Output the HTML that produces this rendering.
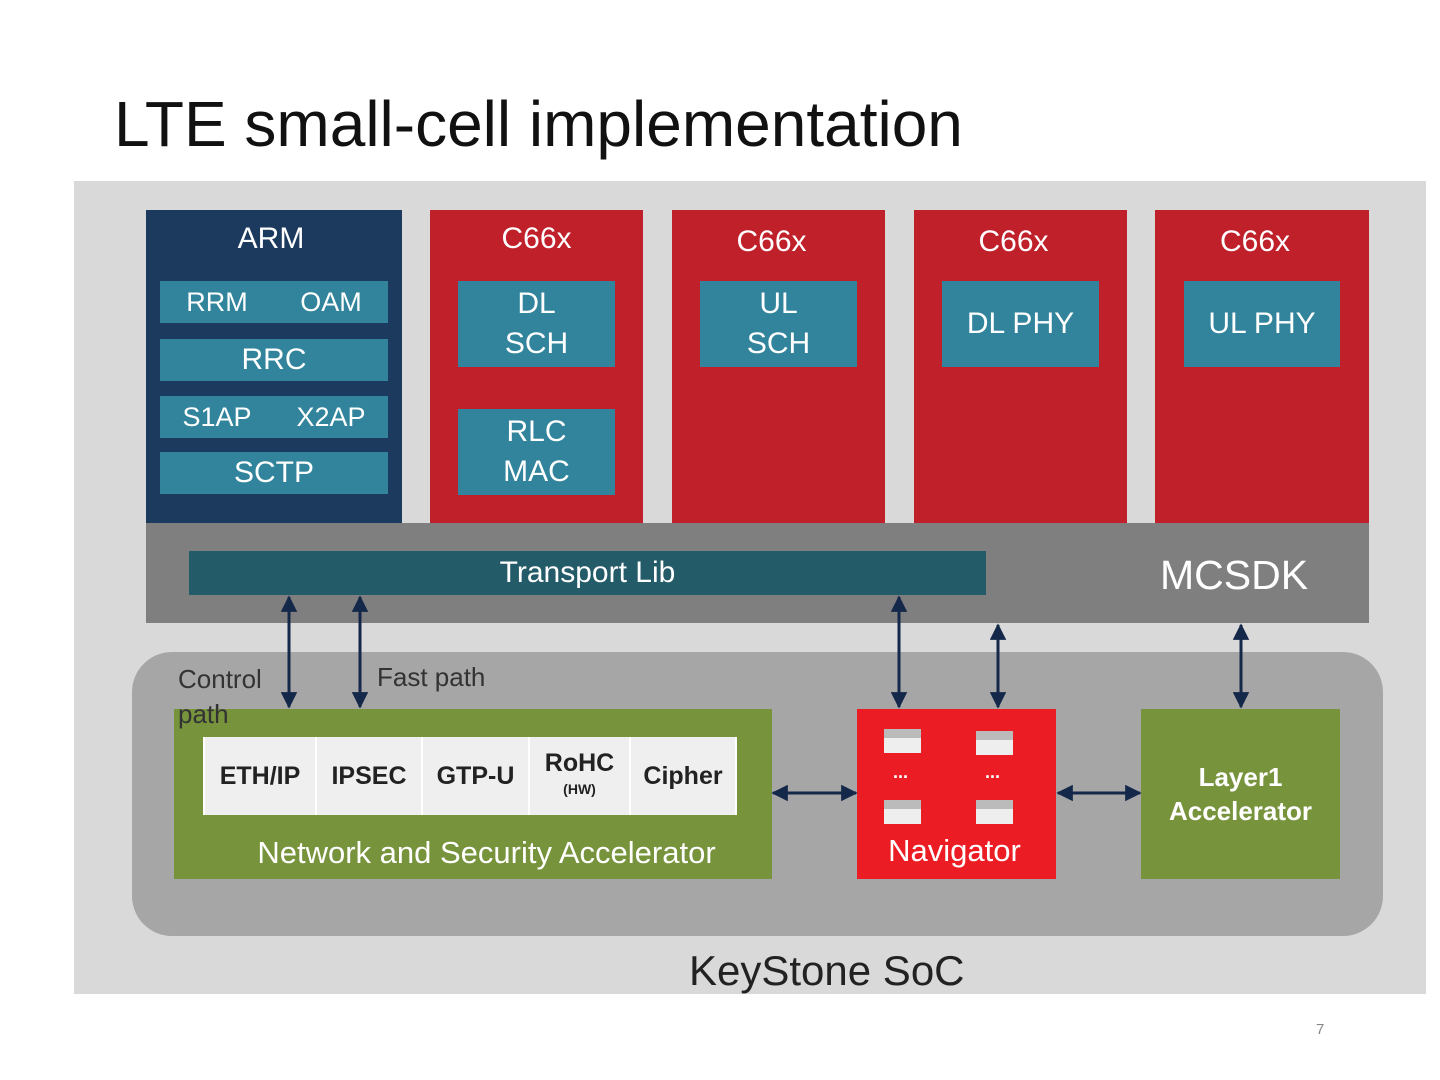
<!DOCTYPE html>
<html><head><meta charset="utf-8"><style>
body{margin:0;width:1440px;height:1080px;background:#fff;position:relative;overflow:hidden;font-family:"Liberation Sans",Arial,sans-serif}
div{position:absolute;box-sizing:border-box}
.c{display:flex;align-items:center;justify-content:center;text-align:center;color:#fff}
.t{background:#31849b;font-size:30px;line-height:40px}
.a{background:#31849b;font-size:27px}
.red{background:#c0202a;top:210px;height:313px}
.h{top:222px;font-size:30px;color:#fff;text-align:center}
.cell{top:737px;height:78px;background:#efefef;border-right:2px solid #fff;font-weight:bold;color:#222;font-size:25px;line-height:26px}
.q{width:37px;height:24px;background:#eee;border-top:9px solid #bbb}
.dot{color:#fff;font-size:18px;font-weight:bold}
</style></head><body>
<div style="left:114px;top:87px;font-size:64px;color:#111">LTE small-cell implementation</div>
<div style="left:74px;top:181px;width:1352px;height:813px;background:#d9d9d9"></div>
<div style="left:146px;top:523px;width:1223px;height:100px;background:#7f7f7f"></div>
<div style="left:132px;top:652px;width:1251px;height:284px;background:#a6a6a6;border-radius:40px"></div>
<div style="left:146px;top:210px;width:256px;height:313px;background:#1b3a5e"></div>
<div class="h" style="left:146px;width:250px">ARM</div>
<div class="c a" style="left:160px;top:281px;width:228px;height:42px;justify-content:space-around">RRM<span>OAM</span></div>
<div class="c a" style="left:160px;top:339px;width:228px;height:42px;font-size:30px">RRC</div>
<div class="c a" style="left:160px;top:396px;width:228px;height:42px;justify-content:space-around">S1AP<span>X2AP</span></div>
<div class="c a" style="left:160px;top:452px;width:228px;height:42px;font-size:30px">SCTP</div>
<div class="red" style="left:430px;width:213px"></div><div class="h" style="left:430px;width:213px">C66x</div>
<div class="red" style="left:672px;width:213px"></div><div class="h" style="left:665px;width:213px;top:225px">C66x</div>
<div class="red" style="left:914px;width:213px"></div><div class="h" style="left:907px;width:213px;top:225px">C66x</div>
<div class="red" style="left:1155px;width:214px"></div><div class="h" style="left:1148px;width:214px;top:225px">C66x</div>
<div class="c t" style="left:458px;top:281px;width:157px;height:86px">DL<br>SCH</div>
<div class="c t" style="left:458px;top:409px;width:157px;height:86px">RLC<br>MAC</div>
<div class="c t" style="left:700px;top:281px;width:157px;height:86px">UL<br>SCH</div>
<div class="c t" style="left:942px;top:281px;width:157px;height:86px">DL PHY</div>
<div class="c t" style="left:1184px;top:281px;width:156px;height:86px">UL PHY</div>
<div class="c" style="left:189px;top:551px;width:797px;height:44px;background:#235b68;font-size:30px">Transport Lib</div>
<div style="left:1160px;top:552px;font-size:41px;color:#fff">MCSDK</div>
<div style="left:178px;top:662px;font-size:26px;color:#333;line-height:35px">Control<br>path</div>
<div style="left:377px;top:662px;font-size:26px;color:#333">Fast path</div>
<div style="left:174px;top:709px;width:598px;height:170px;background:#77933c"></div>
<div style="left:178px;top:697px;font-size:26px;color:#333;line-height:35px">path</div>
<div style="left:203px;top:737px;width:534px;height:78px;background:#fff"></div>
<div class="c cell" style="left:205px;width:112px">ETH/IP</div>
<div class="c cell" style="left:317px;width:106px">IPSEC</div>
<div class="c cell" style="left:423px;width:107px">GTP-U</div>
<div class="c cell" style="left:530px;width:101px;flex-direction:column">RoHC<span style="font-size:14px">(HW)</span></div>
<div class="c cell" style="left:631px;width:104px;border-right:0">Cipher</div>
<div style="left:174px;top:835px;width:625px;text-align:center;color:#fff;font-size:31px">Network and Security Accelerator</div>
<div style="left:857px;top:709px;width:199px;height:170px;background:#ec1c24"></div>
<div class="q" style="left:884px;top:729px"></div><div class="q" style="left:976px;top:731px"></div>
<div class="q" style="left:884px;top:800px"></div><div class="q" style="left:976px;top:800px"></div>
<div class="dot" style="left:893px;top:762px">...</div><div class="dot" style="left:985px;top:762px">...</div>
<div style="left:857px;top:833px;width:195px;text-align:center;color:#fff;font-size:31px">Navigator</div>
<div class="c" style="left:1141px;top:709px;width:199px;height:170px;background:#77933c;font-weight:bold;font-size:26px;line-height:34px">Layer1<br>Accelerator</div>
<div style="left:689px;top:947px;font-size:42px;color:#222">KeyStone SoC</div>
<div style="left:1316px;top:1021px;font-size:15px;color:#888">7</div>
<svg width="1440" height="1080" style="position:absolute;left:0;top:0">
<defs><marker id="m" viewBox="0 0 10 10" refX="9" refY="5" markerWidth="5.5" markerHeight="5.5" orient="auto-start-reverse"><path d="M0,0L10,5L0,10z" fill="#14284a"/></marker></defs>
<g stroke="#14284a" stroke-width="3" marker-start="url(#m)" marker-end="url(#m)">
<line x1="289" y1="597" x2="289" y2="707"/><line x1="360" y1="597" x2="360" y2="707"/>
<line x1="899" y1="597" x2="899" y2="707"/><line x1="998" y1="625" x2="998" y2="707"/>
<line x1="1241" y1="625" x2="1241" y2="707"/>
<line x1="773" y1="793" x2="856" y2="793"/><line x1="1058" y1="793" x2="1140" y2="793"/>
</g></svg>
</body></html>
